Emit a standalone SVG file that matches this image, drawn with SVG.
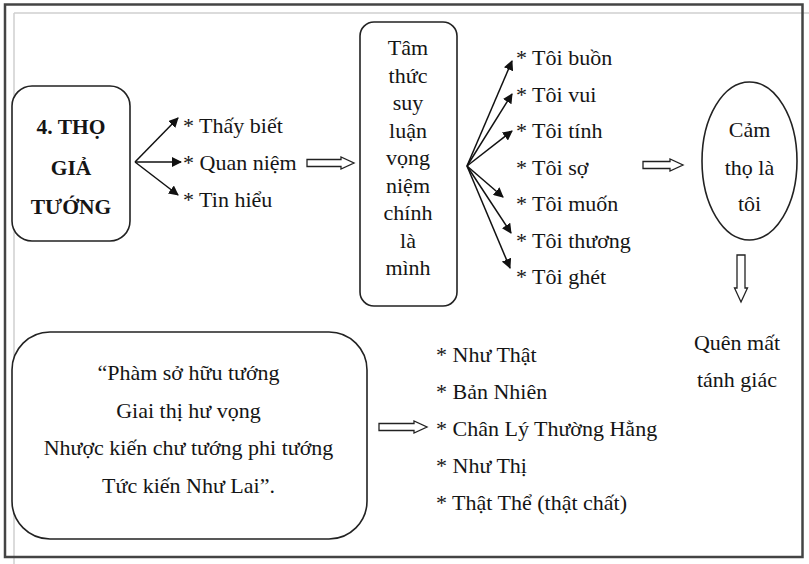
<svg xmlns="http://www.w3.org/2000/svg" width="809" height="564" viewBox="0 0 809 564">
  <defs>
    <marker id="tip" viewBox="0 0 10 10" refX="9" refY="5" markerWidth="10" markerHeight="10" markerUnits="userSpaceOnUse" orient="auto">
      <path d="M0,0 L10,5 L0,10 z" fill="#111"/>
    </marker>
    <style>
      .t { font-family: "Liberation Serif", "Times New Roman", serif; font-size: 22px; fill: #151515; }
      .b { font-weight: bold; font-size: 21.5px; }
      .c { text-anchor: middle; }
      .box { fill: #fff; stroke: #222; stroke-width: 1.6; }
      .fan { stroke: #111; stroke-width: 1.5; fill: none; marker-end: url(#tip); }
      .hollow { fill: #fff; stroke: #222; stroke-width: 1.3; stroke-linejoin: miter; }
    </style>
  </defs>

  <rect width="809" height="564" fill="#fff"/>

  <!-- page frame -->
  <g id="frame">
    <line x1="14" y1="13" x2="809" y2="13" stroke="#cfcfcf" stroke-width="1.5"/>
    <line x1="14" y1="13" x2="14" y2="564" stroke="#cfcfcf" stroke-width="1.5"/>
    <rect x="5" y="4.5" width="797.5" height="552.5" fill="none" stroke="#444" stroke-width="2.5"/>
  </g>

  <!-- nodes -->
  <g id="tho-gia-tuong">
    <rect class="box" x="12" y="86" width="118" height="155" rx="20"/>
    <text class="t b c" x="71" y="134">4. THỌ</text>
    <text class="t b c" x="71" y="175">GIẢ</text>
    <text class="t b c" x="71" y="214">TƯỚNG</text>
  </g>

  <g id="nhan-thuc">
    <text class="t" x="183" y="133">* Thấy biết</text>
    <text class="t" x="183" y="170">* Quan niệm</text>
    <text class="t" x="183" y="207">* Tin hiểu</text>
  </g>

  <g id="tam-thuc">
    <rect class="box" x="360" y="22" width="97" height="284" rx="14"/>
    <text class="t c" x="408" y="55">Tâm</text>
    <text class="t c" x="408" y="82.5">thức</text>
    <text class="t c" x="408" y="110">suy</text>
    <text class="t c" x="408" y="137.5">luận</text>
    <text class="t c" x="408" y="165">vọng</text>
    <text class="t c" x="408" y="192.5">niệm</text>
    <text class="t c" x="408" y="220">chính</text>
    <text class="t c" x="408" y="247.5">là</text>
    <text class="t c" x="408" y="275">mình</text>
  </g>

  <g id="cam-xuc">
    <text class="t" x="516" y="65">* Tôi buồn</text>
    <text class="t" x="516" y="101.5">* Tôi vui</text>
    <text class="t" x="516" y="138">* Tôi tính</text>
    <text class="t" x="516" y="174.5">* Tôi sợ</text>
    <text class="t" x="516" y="211">* Tôi muốn</text>
    <text class="t" x="516" y="247.5">* Tôi thương</text>
    <text class="t" x="516" y="284">* Tôi ghét</text>
  </g>

  <g id="cam-tho-la-toi">
    <ellipse class="box" cx="749.5" cy="161" rx="47.5" ry="79"/>
    <text class="t c" x="749.5" y="137">Cảm</text>
    <text class="t c" x="749.5" y="175">thọ là</text>
    <text class="t c" x="749.5" y="211">tôi</text>
  </g>

  <g id="quen-mat">
    <text class="t c" x="737" y="350">Quên mất</text>
    <text class="t c" x="737" y="387">tánh giác</text>
  </g>

  <g id="kinh-van">
    <rect class="box" x="12" y="332" width="355" height="207" rx="38"/>
    <text class="t c" x="188.5" y="380">“Phàm sở hữu tướng</text>
    <text class="t c" x="188.5" y="417.5">Giai thị hư vọng</text>
    <text class="t c" x="188.5" y="455">Nhược kiến chư tướng phi tướng</text>
    <text class="t c" x="188.5" y="492.5">Tức kiến Như Lai”.</text>
  </g>

  <g id="chan-ly">
    <text class="t" x="436" y="362">* Như Thật</text>
    <text class="t" x="436" y="399">* Bản Nhiên</text>
    <text class="t" x="436" y="436">* Chân Lý Thường Hằng</text>
    <text class="t" x="436" y="473">* Như Thị</text>
    <text class="t" x="436" y="510">* Thật Thể (thật chất)</text>
  </g>

  <!-- connectors -->
  <g id="connectors">
    <line class="fan" x1="135" y1="162" x2="178" y2="118"/>
    <line class="fan" x1="135" y1="162" x2="181" y2="162"/>
    <line class="fan" x1="135" y1="162" x2="178" y2="195"/>

    <line class="fan" x1="467" y1="166" x2="512" y2="61"/>
    <line class="fan" x1="467" y1="166" x2="512" y2="94"/>
    <line class="fan" x1="467" y1="166" x2="512" y2="131"/>
    <line class="fan" x1="467" y1="166" x2="503" y2="197"/>
    <line class="fan" x1="467" y1="166" x2="511" y2="233"/>
    <line class="fan" x1="467" y1="166" x2="510" y2="268"/>

    <!-- double-line (hollow) arrows -->
    <path class="hollow" d="M307,159.5 H341 V157 L354,163 L341,169 V166.5 H307 Z"/>
    <path class="hollow" d="M643,161.5 H670 V159 L683,165 L670,171 V168.5 H643 Z"/>
    <path class="hollow" d="M379,423.5 H414 V421 L427,427 L414,433 V430.5 H379 Z"/>
    <path class="hollow" d="M737,255 V288 H734.5 L741,302 L747.5,288 H745 V255 Z"/>
  </g>
</svg>
